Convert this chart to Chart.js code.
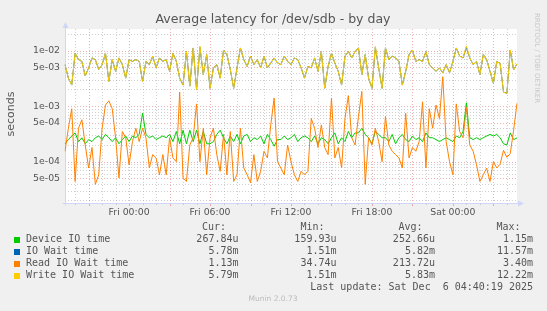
<!DOCTYPE html>
<html>
<head>
<meta charset="utf-8">
<script src="https://cdn.jsdelivr.net/npm/chart.js@4.4.1/dist/chart.umd.min.js"></script>
<style>
html, body { margin: 0; padding: 0; background: #f0f0f0; }
canvas { display: block; }
</style>
</head>
<body>
<canvas id="chart" width="547" height="311"></canvas>
<script>
// 15 minute samples, Thu 19:15 .. Sat 04:45
const times = [
  'Thu 19:15','Thu 19:30','Thu 19:45',
  'Thu 20:00','Thu 20:15','Thu 20:30','Thu 20:45','Thu 21:00','Thu 21:15','Thu 21:30','Thu 21:45',
  'Thu 22:00','Thu 22:15','Thu 22:30','Thu 22:45','Thu 23:00','Thu 23:15','Thu 23:30','Thu 23:45',
  'Fri 00:00','Fri 00:15','Fri 00:30','Fri 00:45','Fri 01:00','Fri 01:15','Fri 01:30','Fri 01:45',
  'Fri 02:00','Fri 02:15','Fri 02:30','Fri 02:45','Fri 03:00','Fri 03:15','Fri 03:30','Fri 03:45',
  'Fri 04:00','Fri 04:15','Fri 04:30','Fri 04:45','Fri 05:00','Fri 05:15','Fri 05:30','Fri 05:45',
  'Fri 06:00','Fri 06:15','Fri 06:30','Fri 06:45','Fri 07:00','Fri 07:15','Fri 07:30','Fri 07:45',
  'Fri 08:00','Fri 08:15','Fri 08:30','Fri 08:45','Fri 09:00','Fri 09:15','Fri 09:30','Fri 09:45',
  'Fri 10:00','Fri 10:15','Fri 10:30','Fri 10:45','Fri 11:00','Fri 11:15','Fri 11:30','Fri 11:45',
  'Fri 12:00','Fri 12:15','Fri 12:30','Fri 12:45','Fri 13:00','Fri 13:15','Fri 13:30','Fri 13:45',
  'Fri 14:00','Fri 14:15','Fri 14:30','Fri 14:45','Fri 15:00','Fri 15:15','Fri 15:30','Fri 15:45',
  'Fri 16:00','Fri 16:15','Fri 16:30','Fri 16:45','Fri 17:00','Fri 17:15','Fri 17:30','Fri 17:45',
  'Fri 18:00','Fri 18:15','Fri 18:30','Fri 18:45','Fri 19:00','Fri 19:15','Fri 19:30','Fri 19:45',
  'Fri 20:00','Fri 20:15','Fri 20:30','Fri 20:45','Fri 21:00','Fri 21:15','Fri 21:30','Fri 21:45',
  'Fri 22:00','Fri 22:15','Fri 22:30','Fri 22:45','Fri 23:00','Fri 23:15','Fri 23:30','Fri 23:45',
  'Sat 00:00','Sat 00:15','Sat 00:30','Sat 00:45','Sat 01:00','Sat 01:15','Sat 01:30','Sat 01:45',
  'Sat 02:00','Sat 02:15','Sat 02:30','Sat 02:45','Sat 03:00','Sat 03:15','Sat 03:30','Sat 03:45',
  'Sat 04:00','Sat 04:15','Sat 04:30','Sat 04:45'
];

// values in milliseconds
const deviceIO = [
  0.21,0.25,0.29,0.33,0.23,0.27,0.21,0.25,0.23,0.27,0.29,0.25,0.31,0.27,0.23,0.27,0.21,0.25,0.29,0.23,0.29,
  0.27,0.31,0.75,0.31,0.27,0.29,0.25,0.27,0.29,0.27,0.31,0.23,0.35,0.21,0.37,0.21,0.37,0.23,0.37,0.21,0.35,0.21,
  0.21,0.23,0.31,0.37,0.27,0.21,0.29,0.23,0.31,0.21,0.29,0.31,0.23,0.27,0.25,0.29,0.21,0.31,0.25,0.19,0.25,
  0.25,0.29,0.25,0.27,0.31,0.23,0.27,0.29,0.27,0.23,0.29,0.21,0.27,0.25,0.21,0.27,0.33,0.21,0.27,0.23,0.35,
  0.27,0.33,0.33,0.40,0.31,0.27,0.21,0.35,0.31,0.27,0.27,0.23,0.31,0.21,0.27,0.31,0.25,0.23,0.29,0.25,0.27,0.23,
  0.33,0.27,0.27,0.25,0.23,0.25,0.27,0.25,0.23,0.29,0.27,0.35,1.15,0.27,0.25,0.27,0.25,0.27,0.29,0.31,0.29,0.31,
  0.27,0.21,0.20,0.33,0.25,0.268
];
const ioWait = [
  5.6,3.2,2.4,9.0,6.9,6.4,3.5,4.9,7.4,6.9,4.6,5.6,9.0,2.8,6.9,4.25,7.4,5.6,3.2,6.9,6.4,
  6.9,6.4,2.8,6.4,5.6,8.0,4.9,7.4,6.4,6.9,4.25,9.0,6.4,3.2,2.4,9.7,2.3,11.2,2.0,11.5,3.7,8.5,
  2.1,4.9,5.6,3.2,10.3,8.5,4.6,2.1,4.9,11.2,6.9,5.2,8.0,5.6,6.9,4.9,8.0,4.9,6.0,7.4,6.0,
  5.6,8.0,6.4,5.6,7.4,6.9,4.9,3.2,5.2,4.9,7.4,4.25,9.7,2.1,5.2,9.0,6.0,4.25,2.4,8.0,9.7,
  7.4,9.7,11.2,3.7,8.5,3.2,2.1,11.5,4.9,2.1,11.2,6.9,8.0,7.4,6.4,2.4,4.25,8.5,10.3,6.4,6.9,6.4,
  9.7,5.6,4.9,4.25,4.9,4.0,5.6,4.0,6.4,11.2,8.0,7.4,11.5,7.4,5.6,6.4,3.7,8.5,6.9,4.25,2.6,6.4,
  5.9,1.8,1.7,10.3,4.5,5.78
];
const readWait = [
  0.154,0.40,0.9,0.044,0.40,0.57,0.20,0.077,0.18,0.039,0.058,0.40,1.05,1.25,0.9,0.27,0.051,0.35,0.27,0.088,0.23,
  0.40,0.23,0.40,0.27,0.077,0.134,0.117,0.058,0.134,0.058,0.27,0.117,0.10,1.8,0.051,0.044,0.20,0.27,1.1,0.10,0.40,0.058,
  0.27,0.40,0.134,0.067,0.31,0.058,0.35,0.044,0.058,0.40,0.077,0.058,0.042,0.134,0.044,0.067,0.154,0.117,0.46,1.4,0.10,
  0.077,0.058,0.20,0.10,0.058,0.044,0.067,0.058,0.067,0.6,0.40,0.18,0.46,0.18,0.134,1.4,0.117,0.18,0.077,0.6,1.55,
  0.27,0.20,0.65,1.85,0.039,0.27,0.20,0.40,0.23,0.10,0.65,0.20,0.154,0.134,0.117,0.077,0.75,0.117,0.18,0.154,0.23,1.2,
  0.077,0.9,0.40,1.05,0.6,3.4,0.23,0.10,0.058,1.1,0.35,0.27,0.95,0.20,0.154,0.088,0.044,0.058,0.077,0.044,0.10,0.077,
  0.09,0.16,0.12,0.14,0.37,1.13
];
const writeWait = [
  5.6,3.2,2.4,9.0,6.9,6.4,3.5,4.9,7.4,6.9,4.6,5.6,9.0,2.8,6.9,4.25,7.4,5.6,3.2,6.9,6.4,
  6.9,6.4,2.8,6.4,5.6,8.0,4.9,7.4,6.4,6.9,4.25,9.0,6.4,3.2,2.4,9.7,2.3,11.2,2.0,12.0,3.7,8.5,
  2.1,4.9,5.6,3.2,10.3,8.5,4.6,2.1,4.9,11.2,6.9,5.2,8.0,5.6,6.9,4.9,8.0,4.9,6.0,7.4,6.0,
  5.6,8.0,6.4,5.6,7.4,6.9,4.9,3.2,5.2,4.9,7.4,4.25,9.7,2.1,5.2,9.0,6.0,4.25,2.4,8.0,9.7,
  7.4,9.7,11.2,3.7,8.5,3.2,2.1,12.0,4.9,2.1,11.2,6.9,8.0,7.4,6.4,2.4,4.25,8.5,10.3,6.4,6.9,6.4,
  9.7,5.6,4.9,4.25,4.9,4.0,5.6,4.0,6.4,11.2,8.0,7.4,12.2,7.4,5.6,6.4,3.7,8.5,6.9,4.25,2.6,6.4,
  5.9,1.8,1.7,10.3,4.5,5.79
];

const yTicks = [0.05, 0.1, 0.5, 1, 5, 10]; // ms

const seriesNames = ['Device IO time', 'IO Wait time', 'Read IO Wait time', 'Write IO Wait time'];
const curVals = ['267.84u', '5.78m', '1.13m', '5.79m'];
const minVals = ['159.93u', '1.51m', '34.74u', '1.51m'];
const avgVals = ['252.66u', '5.82m', '213.72u', '5.83m'];
const maxVals = ['1.15m', '11.57m', '3.40m', '12.22m'];

const colors = ['#00cc00', '#0066b3', '#ff8000', '#ffcc00'];
const FONT = '#555555';
const GRID = 'rgba(143,143,143,0.42)';
const MGRID = 'rgba(222,79,79,0.45)';
const AXIS = '#cfd6f8';

// "1e-02" style labels, axis values are ms
function sciLabel(ms) {
  const s = ms / 1000;
  const e = Math.floor(Math.log10(s) + 1e-9);
  const m = Math.round(s / Math.pow(10, e));
  return m + 'e-' + String(-e).padStart(2, '0');
}

function hline(ctx, x1, x2, y) { ctx.beginPath(); ctx.moveTo(x1, y); ctx.lineTo(x2, y); ctx.stroke(); }
function vline(ctx, x, y1, y2) { ctx.beginPath(); ctx.moveTo(x, y1); ctx.lineTo(x, y2); ctx.stroke(); }

const muninLook = {
  id: 'muninLook',
  beforeDraw(chart) {
    const ctx = chart.ctx;
    ctx.save();
    ctx.fillStyle = '#f0f0f0';
    ctx.fillRect(0, 0, chart.width, chart.height);
    ctx.restore();
  },
  beforeDatasetsDraw(chart) {
    const { ctx, chartArea: a, scales: { x, y } } = chart;
    ctx.save();
    ctx.fillStyle = '#ffffff';
    ctx.fillRect(a.left, a.top, a.right - a.left, a.bottom - a.top);
    ctx.lineWidth = 1;
    ctx.setLineDash([1, 2]);
    // horizontal grid
    for (let e = -2; e <= 1; e++) {
      for (let m = 1; m <= 9; m++) {
        const v = m * Math.pow(10, e);
        if (v < y.min || v > y.max) continue;
        const py = Math.round(y.getPixelForValue(v)) + 0.5;
        ctx.strokeStyle = (m === 1 || m === 5) ? MGRID : GRID;
        hline(ctx, a.left, a.right, py);
      }
    }
    // vertical grid, every hour, red every 3 hours
    times.forEach((t, i) => {
      if (!t.endsWith(':00')) return;
      const hr = parseInt(t.slice(4, 6), 10);
      const px = Math.round(x.getPixelForValue(i)) + 0.5;
      ctx.strokeStyle = hr % 3 === 0 ? MGRID : GRID;
      vline(ctx, px, a.top, a.bottom);
    });
    ctx.setLineDash([]);
    // tick marks under the x axis
    times.forEach((t, i) => {
      if (!t.endsWith(':00')) return;
      const hr = parseInt(t.slice(4, 6), 10);
      const px = Math.round(x.getPixelForValue(i)) + 0.5;
      ctx.strokeStyle = hr % 3 === 0 ? MGRID : GRID;
      vline(ctx, px, a.bottom, a.bottom + (hr % 3 === 0 ? 3 : 2));
    });
    // axes with arrows
    ctx.strokeStyle = AXIS;
    ctx.fillStyle = AXIS;
    const ax = Math.round(a.left) + 0.5;
    const ay = Math.round(a.bottom) + 0.5;
    vline(ctx, ax, ay + 2, a.top - 3);
    hline(ctx, ax - 3, a.right + 2, ay);
    ctx.beginPath();
    ctx.moveTo(ax - 3, a.top - 1); ctx.lineTo(ax + 3, a.top - 1); ctx.lineTo(ax, a.top - 7); ctx.closePath(); ctx.fill();
    ctx.beginPath();
    ctx.moveTo(a.right + 1, ay - 3); ctx.lineTo(a.right + 1, ay + 3); ctx.lineTo(a.right + 7, ay); ctx.closePath(); ctx.fill();
    ctx.restore();
  },
  afterDraw(chart) {
    const ctx = chart.ctx;
    ctx.save();
    ctx.fillStyle = FONT;
    ctx.textBaseline = 'middle';
    ctx.textAlign = 'center';
    ctx.font = '12.5px "DejaVu Sans"';
    ctx.fillText('Average latency for /dev/sdb - by day', 273, 20);

    ctx.save();
    ctx.translate(11, 114);
    ctx.rotate(-Math.PI / 2);
    ctx.font = '11px "DejaVu Sans"';
    ctx.fillText('seconds', 0, 0);
    ctx.restore();

    ctx.font = '10px "DejaVu Sans Mono"';
    ctx.textAlign = 'right';
    ctx.fillText('Cur:', 226, 227.5);
    ctx.fillText('Min:', 324.5, 227.5);
    ctx.fillText('Avg:', 422.5, 227.5);
    ctx.fillText('Max:', 520.5, 227.5);
    seriesNames.forEach((name, k) => {
      const ry = 239.7 + k * 12;
      ctx.fillStyle = colors[k];
      ctx.fillRect(14, Math.round(ry) - 3, 6, 6);
      ctx.fillStyle = FONT;
      ctx.textAlign = 'left';
      ctx.fillText(name, 26, ry);
      ctx.textAlign = 'right';
      ctx.fillText(curVals[k], 238.5, ry);
      ctx.fillText(minVals[k], 336.5, ry);
      ctx.fillText(avgVals[k], 435, ry);
      ctx.fillText(maxVals[k], 533, ry);
    });
    ctx.fillText('Last update: Sat Dec  6 04:40:19 2025', 533, 287.7);

    ctx.textAlign = 'center';
    ctx.fillStyle = '#bbbbbb';
    ctx.font = '7.5px "DejaVu Sans"';
    ctx.fillText('Munin 2.0.73', 273, 299.5);

    ctx.save();
    ctx.translate(537, 58);
    ctx.rotate(Math.PI / 2);
    ctx.fillStyle = '#c8c8c8';
    ctx.font = '7px "DejaVu Sans"';
    ctx.fillText('RRDTOOL / TOBI OETIKER', 0, 0);
    ctx.restore();
    ctx.restore();
  }
};

const ctx = document.getElementById('chart').getContext('2d');
new Chart(ctx, {
  type: 'line',
  data: {
    labels: times,
    datasets: [
      { label: seriesNames[0], data: deviceIO, borderColor: colors[0], order: 3 },
      { label: seriesNames[1], data: ioWait, borderColor: colors[1], order: 2 },
      { label: seriesNames[2], data: readWait, borderColor: colors[2], order: 1 },
      { label: seriesNames[3], data: writeWait, borderColor: colors[3], order: 0 }
    ]
  },
  options: {
    responsive: false,
    animation: false,
    devicePixelRatio: 1,
    layout: { padding: { left: 0, top: 29, right: 30, bottom: 88 } },
    elements: {
      point: { radius: 0 },
      line: { borderWidth: 1, tension: 0, fill: false, borderJoinStyle: 'round' }
    },
    plugins: {
      legend: { display: false },
      title: { display: false },
      tooltip: { enabled: false }
    },
    scales: {
      x: {
        type: 'category',
        grid: { display: false, drawTicks: false },
        border: { display: false },
        ticks: {
          autoSkip: false,
          maxRotation: 0,
          minRotation: 0,
          padding: 4,
          color: FONT,
          font: { family: 'DejaVu Sans', size: 9.33 },
          callback: function (value, index) {
            const t = times[index];
            const hr = parseInt(t.slice(4, 6), 10);
            return (t.endsWith(':00') && hr % 6 === 0) ? t : '';
          }
        },
        afterFit: function (scale) { scale.height = 20; }
      },
      y: {
        type: 'logarithmic',
        min: 0.018,
        max: 24.6,
        grid: { display: false, drawTicks: false },
        border: { display: false },
        afterBuildTicks: function (scale) {
          scale.ticks = yTicks.map(v => ({ value: v }));
        },
        ticks: {
          padding: 5,
          color: FONT,
          font: { family: 'DejaVu Sans', size: 9.33 },
          callback: function (value) { return sciLabel(value); }
        },
        afterFit: function (scale) { scale.width = 65; }
      }
    }
  },
  plugins: [muninLook]
});
</script>
</body>
</html>
